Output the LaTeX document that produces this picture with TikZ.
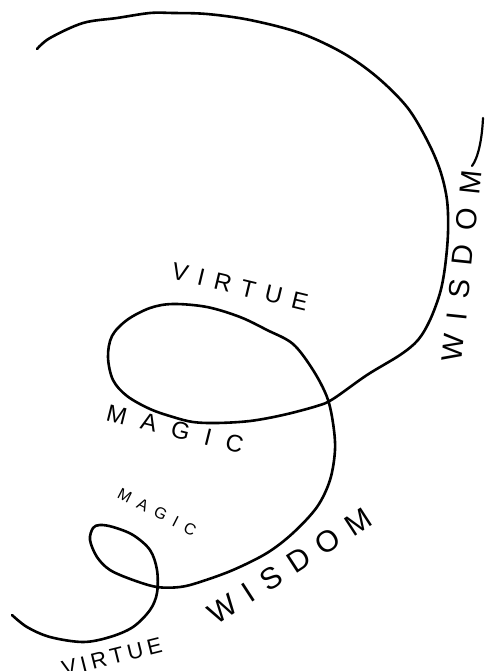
\documentclass[tikz,border=0pt]{standalone}
\usepackage{fontspec}
\setmainfont{Liberation Sans}
\newcommand{\spreadword}[2]{{\addfontfeature{LetterSpace=#1}#2}}
\begin{document}
\begin{tikzpicture}[x=1pt,y=-1pt,
  curve/.style={line width=2.6pt, line cap=round, line join=round},
  word/.style={inner sep=0pt, font=\fontsize{#1pt}{#1pt}\selectfont}]
\useasboundingbox (0,0) rectangle (487,671);
\clip (0,0) rectangle (487,671);
% spiral
\draw[curve] plot[smooth, tension=0.55] coordinates {
 (37,49) (50,38) (83,23) (117,18) (150,13) (173,13) (207,14) (250,20)
 (300,33) (343,53) (377,77) (407,107) (427,140) (440,170) (447,200)
 (448,233) (445,267) (440,293) (430,320) (418,340) (400,355) (367,375)
 (333,399) (317,406) (283,415) (250,421) (217,423) (193,422) (173,417)
 (150,409) (127,396) (113,380) (108,357) (112,336) (127,320) (150,308)
 (173,304) (207,307) (240,317) (267,330) (293,344) (313,370) (327,397)
 (333,423) (335,450) (330,480) (317,507) (293,533) (267,553) (233,570)
 (200,582) (180,587) (157,587) (133,580) (110,570) (97,557) (90,540)
 (93,528) (100,525) (113,527) (133,535) (150,550) (157,570) (157,593)
 (150,610) (133,627) (110,637) (83,642) (50,637) (27,627) (12,615)};
% labels
\node[word=29, rotate=84] (wisdomR) at (462,266) {\spreadword{48}{WISDOM}};
\coordinate (tailS) at (472,166);
\coordinate (tailE) at (483,118);
\draw[line width=2.2pt, line cap=round] (tailS) .. controls (478,158) and (482,140) .. (tailE);
\node[word=24, rotate=-13.5] (virtueA) at (240,287) {\spreadword{43}{VIRTUE}};
\node[word=24, rotate=-14] (magicA) at (175,429) {\spreadword{64}{MAGIC}};
\node[word=16, rotate=-27] (magicB) at (157,512) {\spreadword{52}{MAGIC}};
\node[word=30, rotate=33] (wisdomB) at (290,566) {\spreadword{41}{WISDOM}};
\node[word=22, rotate=14] (virtueB) at (112,657) {\spreadword{20}{VIRTUE}};
\end{tikzpicture}
\end{document}
